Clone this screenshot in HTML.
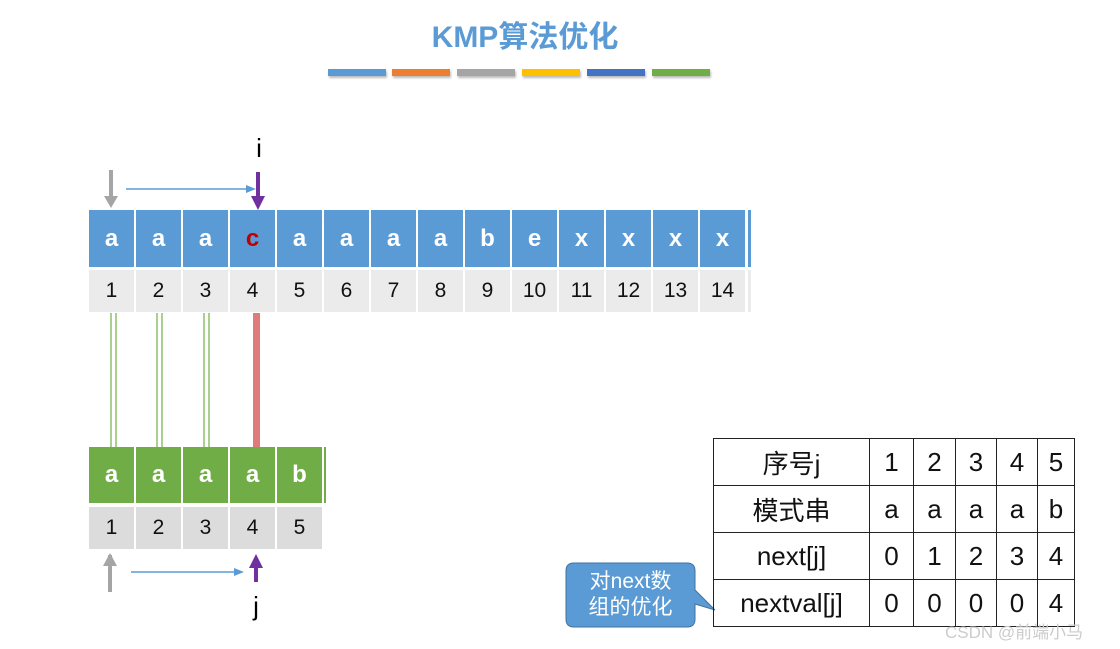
<!DOCTYPE html>
<html><head><meta charset="utf-8"><style>
body{margin:0;width:1120px;height:649px;background:#fff;position:relative;overflow:hidden;font-family:"Liberation Sans","Noto Sans CJK SC",sans-serif}
.a{position:absolute}
.c{position:absolute;display:flex;align-items:center;justify-content:center}
.t{background:#5b9bd5;color:#fff;font-weight:bold;font-size:24px}
.n{background:#ebebeb;color:#111;font-size:21px}
.g{background:#70ad47;color:#fff;font-weight:bold;font-size:24px}
.m{background:#dcdcdc;color:#111;font-size:21px}
.gl{position:absolute;width:2px;background:#a9d18e}
table{position:absolute;left:713px;top:438px;border-collapse:collapse}
td{border:1.5px solid #222;text-align:center;font-size:26px;color:#111;padding:0;height:46px}
</style></head><body>
<div class="c" style="left:380px;top:12px;width:290px;height:44px;color:#5b9bd5;font-weight:bold;font-size:30px">KMP算法优化</div>
<div class="a" style="left:328px;top:69px;width:58px;height:7px;background:#5b9bd5;box-shadow:1px 2px 2px #bbb"></div>
<div class="a" style="left:392px;top:69px;width:58px;height:7px;background:#ed7d31;box-shadow:1px 2px 2px #bbb"></div>
<div class="a" style="left:457px;top:69px;width:58px;height:7px;background:#a5a5a5;box-shadow:1px 2px 2px #bbb"></div>
<div class="a" style="left:522px;top:69px;width:58px;height:7px;background:#ffc000;box-shadow:1px 2px 2px #bbb"></div>
<div class="a" style="left:587px;top:69px;width:58px;height:7px;background:#4472c4;box-shadow:1px 2px 2px #bbb"></div>
<div class="a" style="left:652px;top:69px;width:58px;height:7px;background:#70ad47;box-shadow:1px 2px 2px #bbb"></div>

<div class="c" style="left:245px;top:132px;width:28px;height:32px;font-size:26px">i</div>
<svg class="a" style="left:0;top:0" width="1120" height="649">
<line x1="111" y1="170" x2="111" y2="198" stroke="#a5a5a5" stroke-width="4"/><polygon points="104,196 118,196 111,208" fill="#a5a5a5"/>
<line x1="126" y1="189" x2="248" y2="189" stroke="#5b9bd5" stroke-width="1.5"/><polygon points="246,185 256,189 246,193" fill="#5b9bd5"/>
<line x1="258" y1="172" x2="258" y2="198" stroke="#7030a0" stroke-width="4"/><polygon points="251,196 265,196 258,210" fill="#7030a0"/>
<line x1="110" y1="555" x2="110" y2="592" stroke="#a5a5a5" stroke-width="4"/><polygon points="103,566 117,566 110,553" fill="#a5a5a5"/>
<line x1="131" y1="572" x2="236" y2="572" stroke="#5b9bd5" stroke-width="1.5"/><polygon points="234,568 244,572 234,576" fill="#5b9bd5"/>
<line x1="256" y1="565" x2="256" y2="582" stroke="#7030a0" stroke-width="4"/><polygon points="249,568 263,568 256,554" fill="#7030a0"/>
<path d="M574,563 H687 Q695,563 695,571 V590 L715,610 L695,604 V619 Q695,627 687,627 H574 Q566,627 566,619 V571 Q566,563 574,563 Z" fill="#5b9bd5" stroke="#41719c" stroke-width="1"/>
</svg>
<div class="a" style="left:748px;top:210px;width:3px;height:57px;background:#5b9bd5"></div>
<div class="a" style="left:748px;top:270px;width:3px;height:42px;background:#ebebeb"></div>
<div id="top"></div>
<div class="gl" style="left:110px;top:313px;height:134px"></div><div class="gl" style="left:115px;top:313px;height:134px"></div>
<div class="gl" style="left:156px;top:313px;height:134px"></div><div class="gl" style="left:161px;top:313px;height:134px"></div>
<div class="gl" style="left:203px;top:313px;height:134px"></div><div class="gl" style="left:208px;top:313px;height:134px"></div>
<div class="a" style="left:253px;top:313px;width:7px;height:134px;background:#e07b7b"></div>
<div class="c" style="left:244px;top:590px;width:24px;height:32px;font-size:26px">j</div>
<div class="c" style="left:566px;top:565px;width:129px;height:60px;color:#fff;font-size:21px;line-height:26px;text-align:center">对next数<br>组的优化</div>
<table>
<tr><td style="width:155px">序号j</td><td style="width:43px">1</td><td style="width:41px">2</td><td style="width:40px">3</td><td style="width:40px">4</td><td style="width:36px">5</td></tr>
<tr><td>模式串</td><td>a</td><td>a</td><td>a</td><td>a</td><td>b</td></tr>
<tr><td>next[j]</td><td>0</td><td>1</td><td>2</td><td>3</td><td>4</td></tr>
<tr><td>nextval[j]</td><td>0</td><td>0</td><td>0</td><td>0</td><td>4</td></tr>
</table>
<div class="a" style="left:945px;top:618px;color:#ccc;font-size:17px">CSDN @前端小马</div>
<script>
var s="aaacaaaabexxxx",h="";
for(var i=0;i<14;i++){var x=89+i*47;
h+='<div class="c t" style="left:'+x+'px;top:210px;width:45px;height:57px'+(i==3?';color:#c00000':'')+'">'+s[i]+'</div>';
h+='<div class="c n" style="left:'+x+'px;top:270px;width:45px;height:42px">'+(i+1)+'</div>';}
var p="aaaab";
for(i=0;i<5;i++){x=89+i*47;
h+='<div class="c g" style="left:'+x+'px;top:447px;width:45px;height:56px">'+p[i]+'</div>';
h+='<div class="c m" style="left:'+x+'px;top:507px;width:45px;height:42px">'+(i+1)+'</div>';}
h+='<div class="a" style="left:324px;top:447px;width:2px;height:56px;background:#70ad47"></div>';
document.getElementById("top").innerHTML=h;
</script>
</body></html>
